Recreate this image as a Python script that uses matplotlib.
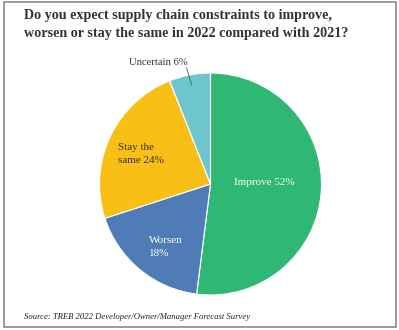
import numpy as np
import matplotlib.pyplot as plt
from matplotlib.patches import Rectangle

labels = ["Improve", "Worsen", "Stay the\nsame", "Uncertain"]
shares = [52, 18, 24, 6]
colors = ["#2fb774", "#4f7bb7", "#f8bf17", "#6cc6cb"]

plt.rcParams["font.family"] = ["Liberation Serif", "DejaVu Serif"]

fig = plt.figure(figsize=(3.99, 3.30), dpi=100)

# grey frame around the whole graphic
fig.patches.append(Rectangle((3.5 / 399, 3.5 / 330), 392.5 / 399, 325 / 330,
                             transform=fig.transFigure, fill=False,
                             edgecolor="#8a8a8a", linewidth=1.2))

fig.text(24 / 399, 1 - 24.5 / 330,
         "Do you expect supply chain constraints to improve,\n"
         "worsen or stay the same in 2022 compared with 2021?",
         ha="left", va="center", fontsize=10.2, fontweight="bold",
         color="#333333", linespacing=1.45)

fig.text(24 / 399, 1 - 317 / 330,
         "Source: TREB 2022 Developer/Owner/Manager Forecast Survey",
         ha="left", va="center", fontsize=6.2, style="italic", color="#222222")

ax = fig.add_axes([99.5 / 399, 35 / 330, 222 / 399, 222 / 330])
wedges, _ = ax.pie(shares, colors=colors, startangle=90, counterclock=False,
                   wedgeprops=dict(linewidth=0.8, edgecolor="white"))
ax.set_xlim(-1, 1)
ax.set_ylim(-1, 1)
ax.set_aspect("equal")
ax.axis("off")

# label placement along each wedge's mid angle
cum = np.cumsum([0] + shares[:-1])
mid = np.deg2rad(90 - (cum + np.array(shares) / 2) * 3.6)

r = 0.49
ax.text(r * np.cos(mid[0]), r * np.sin(mid[0]) + 0.04,
        f"{labels[0]} {shares[0]}%", ha="center", va="center",
        fontsize=8.0, color="white")

r = 0.68
ax.text(r * np.cos(mid[1]) - 0.125, r * np.sin(mid[1]) - 0.04,
        f"{labels[1]}\n{shares[1]}%", ha="left", va="center",
        fontsize=8.0, color="white", linespacing=1.55)

r = 0.70
ax.text(r * np.cos(mid[2]) - 0.2, r * np.sin(mid[2]) - 0.03,
        f"{labels[2]} {shares[2]}%", ha="left", va="center",
        fontsize=8.0, color="#333333", linespacing=1.55)

# small slice gets an outside label with a leader line
x0, y0 = 0.91 * np.cos(mid[3]), 0.91 * np.sin(mid[3])
ax.plot([x0, x0 - 0.045], [y0, y0 + 0.153], color="#555555", linewidth=0.6,
        clip_on=False)
ax.text(x0 - 0.3, y0 + 0.2, f"{labels[3]} {shares[3]}%", ha="center",
        va="center", fontsize=7.6, color="#333333")

fig.savefig("out.png", dpi=100)
